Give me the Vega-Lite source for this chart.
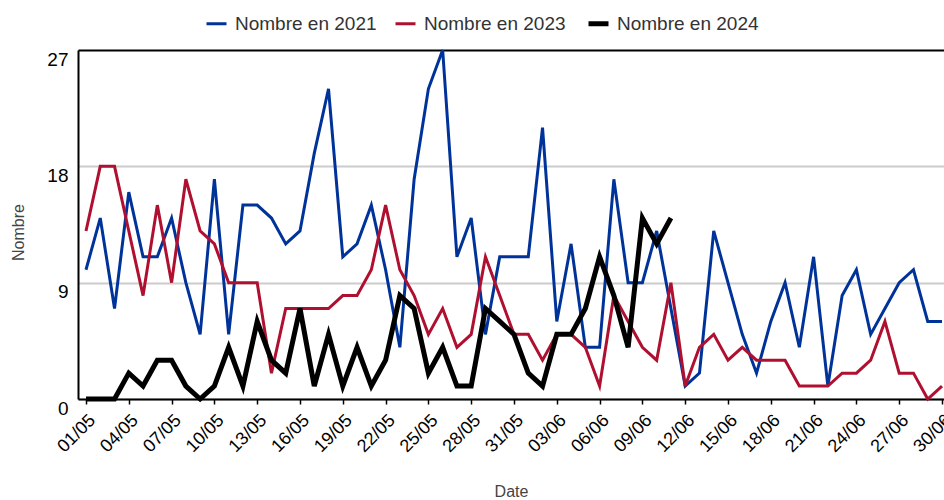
{
  "$schema": "https://vega.github.io/schema/vega-lite/v6.json",
  "width": 866,
  "height": 349,
  "autosize": {"type": "none"},
  "padding": {"left": 78, "top": 50, "right": 0, "bottom": 101},
  "background": "white",
  "config": {
    "font": "Liberation Sans",
    "view": {"stroke": null}
  },
  "data": {
    "values": [
      {"d": "01/05", "Nombre en 2021": 10, "Nombre en 2023": 13, "Nombre en 2024": 0},
      {"d": "02/05", "Nombre en 2021": 14, "Nombre en 2023": 18, "Nombre en 2024": 0},
      {"d": "03/05", "Nombre en 2021": 7, "Nombre en 2023": 18, "Nombre en 2024": 0},
      {"d": "04/05", "Nombre en 2021": 16, "Nombre en 2023": 13, "Nombre en 2024": 2},
      {"d": "05/05", "Nombre en 2021": 11, "Nombre en 2023": 8, "Nombre en 2024": 1},
      {"d": "06/05", "Nombre en 2021": 11, "Nombre en 2023": 15, "Nombre en 2024": 3},
      {"d": "07/05", "Nombre en 2021": 14, "Nombre en 2023": 9, "Nombre en 2024": 3},
      {"d": "08/05", "Nombre en 2021": 9, "Nombre en 2023": 17, "Nombre en 2024": 1},
      {"d": "09/05", "Nombre en 2021": 5, "Nombre en 2023": 13, "Nombre en 2024": 0},
      {"d": "10/05", "Nombre en 2021": 17, "Nombre en 2023": 12, "Nombre en 2024": 1},
      {"d": "11/05", "Nombre en 2021": 5, "Nombre en 2023": 9, "Nombre en 2024": 4},
      {"d": "12/05", "Nombre en 2021": 15, "Nombre en 2023": 9, "Nombre en 2024": 1},
      {"d": "13/05", "Nombre en 2021": 15, "Nombre en 2023": 9, "Nombre en 2024": 6},
      {"d": "14/05", "Nombre en 2021": 14, "Nombre en 2023": 2, "Nombre en 2024": 3},
      {"d": "15/05", "Nombre en 2021": 12, "Nombre en 2023": 7, "Nombre en 2024": 2},
      {"d": "16/05", "Nombre en 2021": 13, "Nombre en 2023": 7, "Nombre en 2024": 7},
      {"d": "17/05", "Nombre en 2021": 19, "Nombre en 2023": 7, "Nombre en 2024": 1},
      {"d": "18/05", "Nombre en 2021": 24, "Nombre en 2023": 7, "Nombre en 2024": 5},
      {"d": "19/05", "Nombre en 2021": 11, "Nombre en 2023": 8, "Nombre en 2024": 1},
      {"d": "20/05", "Nombre en 2021": 12, "Nombre en 2023": 8, "Nombre en 2024": 4},
      {"d": "21/05", "Nombre en 2021": 15, "Nombre en 2023": 10, "Nombre en 2024": 1},
      {"d": "22/05", "Nombre en 2021": 10, "Nombre en 2023": 15, "Nombre en 2024": 3},
      {"d": "23/05", "Nombre en 2021": 4, "Nombre en 2023": 10, "Nombre en 2024": 8},
      {"d": "24/05", "Nombre en 2021": 17, "Nombre en 2023": 8, "Nombre en 2024": 7},
      {"d": "25/05", "Nombre en 2021": 24, "Nombre en 2023": 5, "Nombre en 2024": 2},
      {"d": "26/05", "Nombre en 2021": 27, "Nombre en 2023": 7, "Nombre en 2024": 4},
      {"d": "27/05", "Nombre en 2021": 11, "Nombre en 2023": 4, "Nombre en 2024": 1},
      {"d": "28/05", "Nombre en 2021": 14, "Nombre en 2023": 5, "Nombre en 2024": 1},
      {"d": "29/05", "Nombre en 2021": 5, "Nombre en 2023": 11, "Nombre en 2024": 7},
      {"d": "30/05", "Nombre en 2021": 11, "Nombre en 2023": 8, "Nombre en 2024": 6},
      {"d": "31/05", "Nombre en 2021": 11, "Nombre en 2023": 5, "Nombre en 2024": 5},
      {"d": "01/06", "Nombre en 2021": 11, "Nombre en 2023": 5, "Nombre en 2024": 2},
      {"d": "02/06", "Nombre en 2021": 21, "Nombre en 2023": 3, "Nombre en 2024": 1},
      {"d": "03/06", "Nombre en 2021": 6, "Nombre en 2023": 5, "Nombre en 2024": 5},
      {"d": "04/06", "Nombre en 2021": 12, "Nombre en 2023": 5, "Nombre en 2024": 5},
      {"d": "05/06", "Nombre en 2021": 4, "Nombre en 2023": 4, "Nombre en 2024": 7},
      {"d": "06/06", "Nombre en 2021": 4, "Nombre en 2023": 1, "Nombre en 2024": 11},
      {"d": "07/06", "Nombre en 2021": 17, "Nombre en 2023": 8, "Nombre en 2024": 8},
      {"d": "08/06", "Nombre en 2021": 9, "Nombre en 2023": 6, "Nombre en 2024": 4},
      {"d": "09/06", "Nombre en 2021": 9, "Nombre en 2023": 4, "Nombre en 2024": 14},
      {"d": "10/06", "Nombre en 2021": 13, "Nombre en 2023": 3, "Nombre en 2024": 12},
      {"d": "11/06", "Nombre en 2021": 7, "Nombre en 2023": 9, "Nombre en 2024": 14},
      {"d": "12/06", "Nombre en 2021": 1, "Nombre en 2023": 1},
      {"d": "13/06", "Nombre en 2021": 2, "Nombre en 2023": 4},
      {"d": "14/06", "Nombre en 2021": 13, "Nombre en 2023": 5},
      {"d": "15/06", "Nombre en 2021": 9, "Nombre en 2023": 3},
      {"d": "16/06", "Nombre en 2021": 5, "Nombre en 2023": 4},
      {"d": "17/06", "Nombre en 2021": 2, "Nombre en 2023": 3},
      {"d": "18/06", "Nombre en 2021": 6, "Nombre en 2023": 3},
      {"d": "19/06", "Nombre en 2021": 9, "Nombre en 2023": 3},
      {"d": "20/06", "Nombre en 2021": 4, "Nombre en 2023": 1},
      {"d": "21/06", "Nombre en 2021": 11, "Nombre en 2023": 1},
      {"d": "22/06", "Nombre en 2021": 1, "Nombre en 2023": 1},
      {"d": "23/06", "Nombre en 2021": 8, "Nombre en 2023": 2},
      {"d": "24/06", "Nombre en 2021": 10, "Nombre en 2023": 2},
      {"d": "25/06", "Nombre en 2021": 5, "Nombre en 2023": 3},
      {"d": "26/06", "Nombre en 2021": 7, "Nombre en 2023": 6},
      {"d": "27/06", "Nombre en 2021": 9, "Nombre en 2023": 2},
      {"d": "28/06", "Nombre en 2021": 10, "Nombre en 2023": 2},
      {"d": "29/06", "Nombre en 2021": 6, "Nombre en 2023": 0},
      {"d": "30/06", "Nombre en 2021": 6, "Nombre en 2023": 1}
    ]
  },
  "transform": [
    {"fold": ["Nombre en 2021", "Nombre en 2023", "Nombre en 2024"], "as": ["serie", "nombre"]}
  ],
  "encoding": {
    "x": {
      "field": "d",
      "type": "ordinal",
      "sort": null,
      "scale": {"type": "point", "padding": 0.35, "align": 0.8},
      "axis": {
        "title": "Date",
        "values": ["01/05","04/05","07/05","10/05","13/05","16/05","19/05","22/05","25/05","28/05","31/05","03/06","06/06","09/06","12/06","15/06","18/06","21/06","24/06","27/06","30/06"],
        "labelAngle": -45,
        "labelFontSize": 18,
        "labelColor": "#000",
        "labelPadding": 7,
        "domainColor": "#000",
        "domainWidth": 2,
        "tickColor": "#000",
        "tickWidth": 1.5,
        "tickSize": 5,
        "grid": false,
        "titleFontSize": 16,
        "titleFontWeight": "normal",
        "titleColor": "#444",
        "titleY": 84,
        "titleBaseline": "top"
      }
    },
    "y": {
      "field": "nombre",
      "type": "quantitative",
      "scale": {"domain": [0, 27], "nice": false, "zero": true},
      "axis": {
        "title": "Nombre",
        "values": [0, 9, 18, 27],
        "ticks": false,
        "labelFontSize": 19,
        "labelColor": "#000",
        "labelBaseline": "top",
        "labelPadding": 10,
        "domainColor": "#000",
        "domainWidth": 2,
        "grid": true,
        "gridColor": {"condition": {"test": "datum.value === 27", "value": "#000"}, "value": "#cccccc"},
        "gridWidth": 2,
        "titleFontSize": 16,
        "titleFontWeight": "normal",
        "titleColor": "#444",
        "titleX": -60,
        "titleY": 182,
        "titleAlign": "center",
        "titleBaseline": "middle",
        "titleAngle": -90
      }
    },
    "color": {
      "field": "serie",
      "type": "nominal",
      "scale": {"domain": ["Nombre en 2021", "Nombre en 2023", "Nombre en 2024"], "range": ["#00339a", "#b01030", "#000000"]},
      "legend": {
        "title": null,
        "orient": "none",
        "direction": "horizontal",
        "legendX": 129,
        "legendY": -36,
        "labelFontSize": 19,
        "labelColor": "#333",
        "symbolType": "stroke",
        "symbolSize": 400,
        "labelOffset": 9,
        "columnPadding": 12,
        "encode": {
          "symbols": {
            "update": {
              "strokeWidth": {"signal": "datum.value === 'Nombre en 2024' ? 5 : 3"}
            }
          }
        }
      }
    }
  },
  "layer": [
    {
      "transform": [{"filter": "datum.serie !== 'Nombre en 2024'"}],
      "mark": {"type": "line", "strokeJoin": "miter", "strokeWidth": 3, "clip": false}
    },
    {
      "transform": [{"filter": "datum.serie === 'Nombre en 2024'"}],
      "mark": {"type": "line", "strokeJoin": "miter", "strokeWidth": 5, "clip": false}
    }
  ]
}
